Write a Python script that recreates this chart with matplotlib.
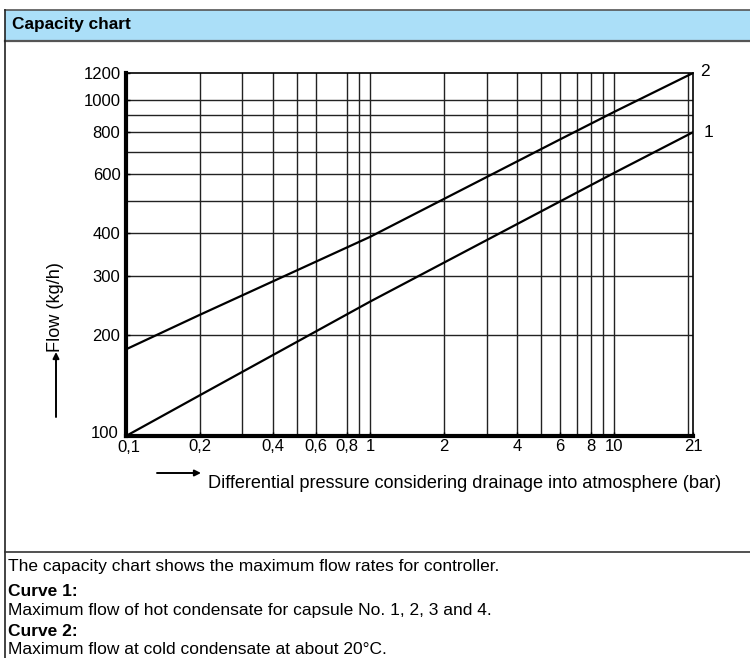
import matplotlib
matplotlib.use("Agg")
import matplotlib.pyplot as plt
from matplotlib.lines import Line2D
from matplotlib.patches import Rectangle, FancyArrowPatch
from matplotlib.ticker import NullLocator
from matplotlib.transforms import ScaledTranslation

# ---------------- data ----------------
pressure_ticks = [0.1, 0.2, 0.4, 0.6, 0.8, 1, 2, 4, 6, 8, 10, 21]
pressure_tick_labels = ["0,1", "0,2", "0,4", "0,6", "0,8", "1", "2", "4", "6", "8", "10", "21"]
flow_ticks = [100, 200, 300, 400, 600, 800, 1000, 1200]
flow_tick_labels = ["100", "200", "300", "400", "600", "800", "1000", "1200"]
x_grid = [0.2, 0.3, 0.4, 0.5, 0.6, 0.8, 0.9, 1, 2, 3, 4, 5, 6, 7, 8, 9, 10, 20]
y_grid = [200, 300, 400, 500, 600, 700, 800, 900, 1000]

curve1_pressure = [0.1, 0.2, 1, 10, 21]
curve1_flow = [100, 132, 251, 606, 800]
curve2_pressure = [0.1, 0.2, 1, 6, 10, 21]
curve2_flow = [181, 229, 391, 762, 920, 1200]
curve_names = ["1", "2"]

# ---------------- layout ----------------
W, H = 750, 658
fig = plt.figure(figsize=(W / 100, H / 100), dpi=100)

def fx(px):
    return px / W

def fy(py):
    return 1 - py / H

REG = ["Liberation Sans", "DejaVu Sans"]

# header band and frame
fig.add_artist(Rectangle((fx(4.5), fy(40)), fx(750) - fx(4.5), fy(10) - fy(40),
                         transform=fig.transFigure, facecolor="#ABDFF8",
                         edgecolor="none", zorder=0))
fig.add_artist(Line2D([fx(4.5), 1], [fy(10), fy(10)], color="#555555", lw=1.2))
fig.add_artist(Line2D([fx(4.5), 1], [fy(40.5), fy(40.5)], color="#555555", lw=1.6))
fig.add_artist(Line2D([fx(4.5), fx(4.5)], [fy(10), 0], color="#222222", lw=1.2))
fig.add_artist(Line2D([fx(4.5), 1], [fy(552), fy(552)], color="#333333", lw=1.2))
fig.text(fx(12), fy(25), "Capacity chart", fontsize=12.4, fontweight="bold",
         family=REG, ha="left", va="center")

# axes
ax = fig.add_axes([fx(126), fy(436), fx(693) - fx(126), fy(73) - fy(436)])
ax.set_xscale("log")
ax.set_yscale("log")
ax.set_xlim(0.1, 21)
ax.set_ylim(100, 1200)

for xv in x_grid:
    ax.axvline(xv, color="#222222", lw=1.0, zorder=1)
for yv in y_grid:
    ax.axhline(yv, color="#222222", lw=1.0, zorder=1)

ax.plot(curve1_pressure, curve1_flow, color="black", lw=1.6, zorder=3)
ax.plot(curve2_pressure, curve2_flow, color="black", lw=1.6, zorder=3)
ax.annotate(curve_names[0], (curve1_pressure[-1], curve1_flow[-1]),
            xytext=(8, 0), textcoords="offset points", fontsize=12.5,
            family=REG, ha="left", va="center", annotation_clip=False)
ax.annotate(curve_names[1], (curve2_pressure[-1], curve2_flow[-1]),
            xytext=(5, 1), textcoords="offset points", fontsize=12.5,
            family=REG, ha="left", va="center", annotation_clip=False)

ax.set_xticks(pressure_ticks)
ax.set_xticklabels(pressure_tick_labels, family=REG, fontsize=12)
ax.set_yticks(flow_ticks)
ax.set_yticklabels(flow_tick_labels, family=REG, fontsize=12)
ax.xaxis.set_minor_locator(NullLocator())
ax.yaxis.set_minor_locator(NullLocator())
ax.tick_params(axis="both", direction="in", length=3, width=1, color="black")
ax.tick_params(axis="x", pad=2)
ax.tick_params(axis="y", pad=4)

# lift the "100" label slightly and push "0,1" a touch right (as in reference)
lab100 = ax.get_yticklabels()[0]
lab100.set_transform(lab100.get_transform() + ScaledTranslation(-2 / 100, 4 / 100, fig.dpi_scale_trans))
lab01 = ax.get_xticklabels()[0]
lab01.set_transform(lab01.get_transform() + ScaledTranslation(3 / 100, -1 / 100, fig.dpi_scale_trans))

for side in ["left", "bottom"]:
    ax.spines[side].set_linewidth(3)
for side in ["top", "right"]:
    ax.spines[side].set_linewidth(1.2)

# axis labels with arrows
fig.add_artist(FancyArrowPatch((fx(157), fy(473)), (fx(201), fy(473)),
                               transform=fig.transFigure, arrowstyle="-|>",
                               mutation_scale=9, color="black", lw=1.4,
                               shrinkA=0, shrinkB=0))
fig.text(fx(208), fy(484), "Differential pressure considering drainage into atmosphere (bar)",
         fontsize=13.1, family=REG, ha="left", va="center")

fig.add_artist(FancyArrowPatch((fx(56), fy(417)), (fx(56), fy(352)),
                               transform=fig.transFigure, arrowstyle="-|>",
                               mutation_scale=9, color="black", lw=1.4,
                               shrinkA=0, shrinkB=0))
fig.text(fx(56), fy(307), "Flow (kg/h)", fontsize=13.1, family=REG,
         rotation=90, ha="center", va="center")

# bottom description
desc = [
    ("The capacity chart shows the maximum flow rates for controller.", "normal", 567),
    ("Curve 1:", "bold", 591),
    ("Maximum flow of hot condensate for capsule No. 1, 2, 3 and 4.", "normal", 610),
    ("Curve 2:", "bold", 632),
    ("Maximum flow at cold condensate at about 20°C.", "normal", 649),
]
for txt, wt, yy in desc:
    fig.text(fx(8), fy(yy), txt, fontsize=12.5, fontweight=wt, family=REG,
             ha="left", va="center")

fig.savefig("out.png", dpi=100)
